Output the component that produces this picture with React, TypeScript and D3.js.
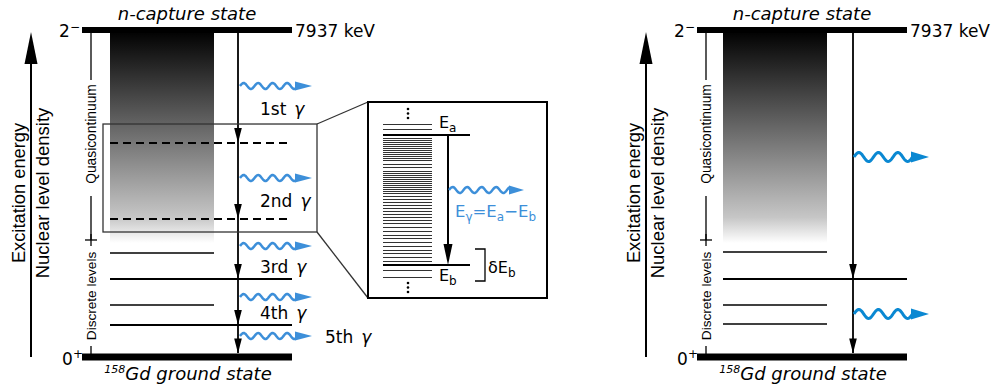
import React from "react";
import * as d3 from "d3";

const W = 996;
const H = 386;

// Energies in keV (schematic)
const CAPTURE_KEV = 7937;
const PANEL_OFFSETS = [0, 615];
const QC_BOUNDARY = 2840;

// Left (detailed) panel
const leftLevels = [2524, 1893, 1262, 777];
const leftLevelFull = [false, true, false, true];
const leftDashed = [5194, 3350];
const leftCascade = [5194, 3350, 1893, 777, 0];
const leftGammaE = [6578, 4345, 2694, 1456, 510];
const leftGammaLabels = ["1st", "2nd", "3rd", "4th", "5th"];
const leftGammaLabelE = [5874, 3641, 2039, 922, 340];
const zoomBoxE = [3034, 5655];

// Right (simple) panel
const rightLevels = [2549, 1893, 1262, 801];
const rightLevelFull = [false, true, false, false];
const rightCascade = [1893, 0];
const rightGammaE = [4854, 1044];

// Inset: relative level energies (arbitrary units)
const insetLevels = [
  153, 148, 142, 138.5, 136.5, 134.5, 132.5, 130.5, 128.5, 126.5, 124.5, 122.5, 120.5,
  118.5, 116.5, 113, 110, 106, 104, 102, 100, 98, 96, 94, 92, 90, 88, 86, 84, 81, 78, 75,
  72, 69, 66, 63, 60, 57, 54, 50, 46, 42, 39, 35, 31, 27, 24, 20, 16, 12, 7, 0,
];
const INSET_EA = 142;
const INSET_EB = 12;

const DJ = "DejaVu Sans";
const LB = "Liberation Sans";
const BLUE_L = "#3d8fd9";
const BLUE_R = "#0a88d2";

const y = d3.scaleLinear().domain([0, CAPTURE_KEV]).range([357, 30]);
const yIn = d3.scaleLinear().domain([0, 153]).range([277, 124]);

function wavePath(x0: number, x1: number, yc: number, amp: number, period: number) {
  const pts: [number, number][] = [];
  const n = 80;
  for (let i = 0; i <= n; i++) {
    const x = x0 + ((x1 - x0) * i) / n;
    pts.push([x, yc - amp * Math.sin(((x - x0) / period) * 2 * Math.PI)]);
  }
  return d3.line()(pts) as string;
}

function Wave({ x0, yc, len, head, hh, amp, period, color, sw }: any) {
  const x1 = x0 + len;
  return (
    <g>
      <path d={wavePath(x0, x1, yc, amp, period)} fill="none" stroke={color} strokeWidth={sw} />
      <path d={`M${x1 - 1},${yc - hh}L${x1 + head},${yc}L${x1 - 1},${yc + hh}Z`} fill={color} />
    </g>
  );
}

function ArrowHead({ x, tip, h, hw }: any) {
  return <path d={`M${x},${tip}L${x - hw},${tip - h}L${x + hw},${tip - h}Z`} fill="#000" />;
}

function Panel({ idx }: { idx: number }) {
  const dx = PANEL_OFFSETS[idx];
  const detailed = idx === 0;
  const levels = detailed ? leftLevels : rightLevels;
  const full = detailed ? leftLevelFull : rightLevelFull;
  const cascade = detailed ? leftCascade : rightCascade;
  const ax = 31;
  const barX0 = 82, barX1 = 292;
  const gX0 = detailed ? 110 : 108, gX1 = detailed ? 214 : 212;
  const vx = 238;
  const bx = 91;
  const yTop = y(CAPTURE_KEV);
  const yGnd = y(0);
  const yQc = y(QC_BOUNDARY);
  return (
    <g transform={`translate(${dx},0)`}>
      {/* axis arrow */}
      <line x1={ax} x2={ax} y1={yGnd} y2={60} stroke="#000" strokeWidth={2} />
      <path d={`M${ax},32L${ax - 6.5},64L${ax + 6.5},64Z`} fill="#000" />
      <text transform={`translate(25,193) rotate(-90)`} textAnchor="middle" fontFamily={LB} fontSize={18.3}>
        Excitation energy
      </text>
      <text transform={`translate(49,193) rotate(-90)`} textAnchor="middle" fontFamily={LB} fontSize={18.5}>
        Nuclear level density
      </text>
      {/* gradient */}
      <rect x={gX0} y={yTop} width={gX1 - gX0} height={yQc + 3 - yTop} fill="url(#qcgrad)" />
      {/* bracket */}
      <line x1={bx} x2={bx} y1={yTop} y2={80} stroke="#000" strokeWidth={1.3} />
      <line x1={bx} x2={bx} y1={196} y2={yQc} stroke="#000" strokeWidth={1.3} />
      <line x1={bx - 6} x2={bx + 6} y1={yQc} y2={yQc} stroke="#000" strokeWidth={1.3} />
      <line x1={bx} x2={bx} y1={yQc - 6} y2={yQc + 6} stroke="#000" strokeWidth={1.3} />
      <line x1={bx} x2={bx} y1={346} y2={yGnd} stroke="#000" strokeWidth={1.3} />
      <text transform={`translate(${bx + 4.5},134) rotate(-90)`} textAnchor="middle" fontFamily={LB} fontSize={13.8}>
        Quasicontinuum
      </text>
      <text transform={`translate(${bx + 4.5},296) rotate(-90)`} textAnchor="middle" fontFamily={LB} fontSize={13.6}>
        Discrete levels
      </text>
      {/* levels */}
      {levels.map((e, i) => (
        <line key={i} x1={gX0} x2={full[i] ? barX1 : gX1} y1={y(e)} y2={y(e)} stroke="#000"
          strokeWidth={full[i] ? 2.2 : 1.4} />
      ))}
      {detailed && leftDashed.map((e, i) => (
        <line key={"d" + i} x1={gX0} x2={289} y1={y(e)} y2={y(e)} stroke="#000" strokeWidth={2}
          strokeDasharray="8,5" />
      ))}
      {/* top & ground */}
      <line x1={barX0} x2={barX1} y1={yTop} y2={yTop} stroke="#000" strokeWidth={6} />
      <line x1={barX0} x2={barX1} y1={yGnd} y2={yGnd} stroke="#000" strokeWidth={7} />
      <text x={80} y={37} textAnchor="end" fontFamily={DJ} fontSize={17}>
        2<tspan dy={-6} fontSize={12}>−</tspan>
      </text>
      <text x={83} y={365} textAnchor="end" fontFamily={DJ} fontSize={17}>
        0<tspan dy={-7} fontSize={12}>+</tspan>
      </text>
      <text x={295} y={37} fontFamily={DJ} fontSize={17}>7937 keV</text>
      <text x={187} y={20} textAnchor="middle" fontFamily={DJ} fontStyle="italic" fontSize={18}>
        n-capture state
      </text>
      <text x={188} y={380} textAnchor="middle" fontFamily={DJ} fontStyle="italic" fontSize={18}>
        <tspan fontSize={11} dy={-7}>158</tspan>
        <tspan dy={7}>Gd ground state</tspan>
      </text>
      {/* cascade */}
      <line x1={vx} x2={vx} y1={yTop} y2={yGnd - 4} stroke="#000" strokeWidth={1.8} />
      {cascade.map((e, i) => (
        <ArrowHead key={"a" + i} x={vx} tip={e === 0 ? yGnd - 3.5 : y(e)} h={15} hw={3.8} />
      ))}
      {detailed
        ? leftGammaE.map((e, i) => (
            <Wave key={"w" + i} x0={vx + 2} yc={y(e)} len={56} head={16} hh={4.5} amp={3}
              period={14.5} color={BLUE_L} sw={2.5} />
          ))
        : rightGammaE.map((e, i) => (
            <Wave key={"w" + i} x0={vx + 1} yc={y(e)} len={58} head={17} hh={5.5} amp={4.5}
              period={19.5} color={BLUE_R} sw={3} />
          ))}
      {detailed && leftGammaLabels.map((t, i) => (
        <text key={"l" + i} x={i === 4 ? 325 : 260} y={y(leftGammaLabelE[i])} fontFamily={DJ} fontSize={17}>
          {t}
          <tspan dx={8} fontStyle="italic">γ</tspan>
        </text>
      ))}
      {detailed && (
        <g>
          <rect x={103} y={y(zoomBoxE[1])} width={214} height={y(zoomBoxE[0]) - y(zoomBoxE[1])}
            fill="none" stroke="#333" strokeWidth={1.3} />
          <line x1={317} y1={y(zoomBoxE[1])} x2={368} y2={102} stroke="#333" strokeWidth={1.3} />
          <line x1={317} y1={y(zoomBoxE[0])} x2={368} y2={298} stroke="#333" strokeWidth={1.3} />
          <Inset />
        </g>
      )}
    </g>
  );
}

function Inset() {
  const lx0 = 383, lx1 = 432, longX = 470, ax = 448;
  const yA = yIn(INSET_EA), yB = yIn(INSET_EB);
  return (
    <g>
      <rect x={368} y={102} width={179} height={196} fill="#fff" stroke="#000" strokeWidth={2} />
      {insetLevels.map((e, i) => {
        const main = e === INSET_EA || e === INSET_EB;
        return (
          <line key={i} x1={lx0} x2={main ? longX : lx1} y1={yIn(e)} y2={yIn(e)}
            stroke={main ? "#000" : "#333"} strokeWidth={main ? 2 : 1} shapeRendering={main ? "auto" : "crispEdges"} />
        );
      })}
      {[0, 1, 2].map((k) => (
        <circle key={"t" + k} cx={408} cy={109 + k * 4.5} r={1.3} fill="#000" />
      ))}
      {[0, 1, 2].map((k) => (
        <circle key={"b" + k} cx={408} cy={283 + k * 4.5} r={1.3} fill="#000" />
      ))}
      <line x1={ax} x2={ax} y1={yA} y2={yB - 18} stroke="#000" strokeWidth={2} />
      <path d={`M${ax},${yB}L${ax - 4.5},${yB - 21}L${ax + 4.5},${yB - 21}Z`} fill="#000" />
      <Wave x0={ax + 1} yc={190} len={61} head={14} hh={4.5} amp={3} period={14.5} color={BLUE_L} sw={2.5} />
      <text x={439} y={128} fontFamily={DJ} fontSize={16}>
        E<tspan fontSize={12} dy={4}>a</tspan>
      </text>
      <text x={439} y={281} fontFamily={DJ} fontSize={16}>
        E<tspan fontSize={12} dy={4}>b</tspan>
      </text>
      <path d="M475,249H485V281H475" fill="none" stroke="#000" strokeWidth={1.3} />
      <text x={488} y={273} fontFamily={DJ} fontSize={16}>
        δE<tspan fontSize={12} dy={4}>b</tspan>
      </text>
      <text x={455} y={217} fontFamily={DJ} fontSize={16.5} fill={BLUE_L}>
        E<tspan fontSize={12} dy={4}>γ</tspan>
        <tspan dy={-4}>=E</tspan>
        <tspan fontSize={12} dy={4}>a</tspan>
        <tspan dy={-4}>−E</tspan>
        <tspan fontSize={12} dy={4}>b</tspan>
      </text>
    </g>
  );
}

export default function App() {
  return (
    <svg width={W} height={H} viewBox={`0 0 ${W} ${H}`}
      style={{ position: "absolute", left: 0, top: 0, background: "#fff" }}>
      <defs>
        <linearGradient id="qcgrad" x1="0" y1="0" x2="0" y2="1">
          <stop offset="0" stopColor="#000" />
          <stop offset="0.88" stopColor="#c6c6c6" />
          <stop offset="1" stopColor="#fff" />
        </linearGradient>
      </defs>
      <rect width={W} height={H} fill="#fff" />
      <Panel idx={0} />
      <Panel idx={1} />
    </svg>
  );
}
